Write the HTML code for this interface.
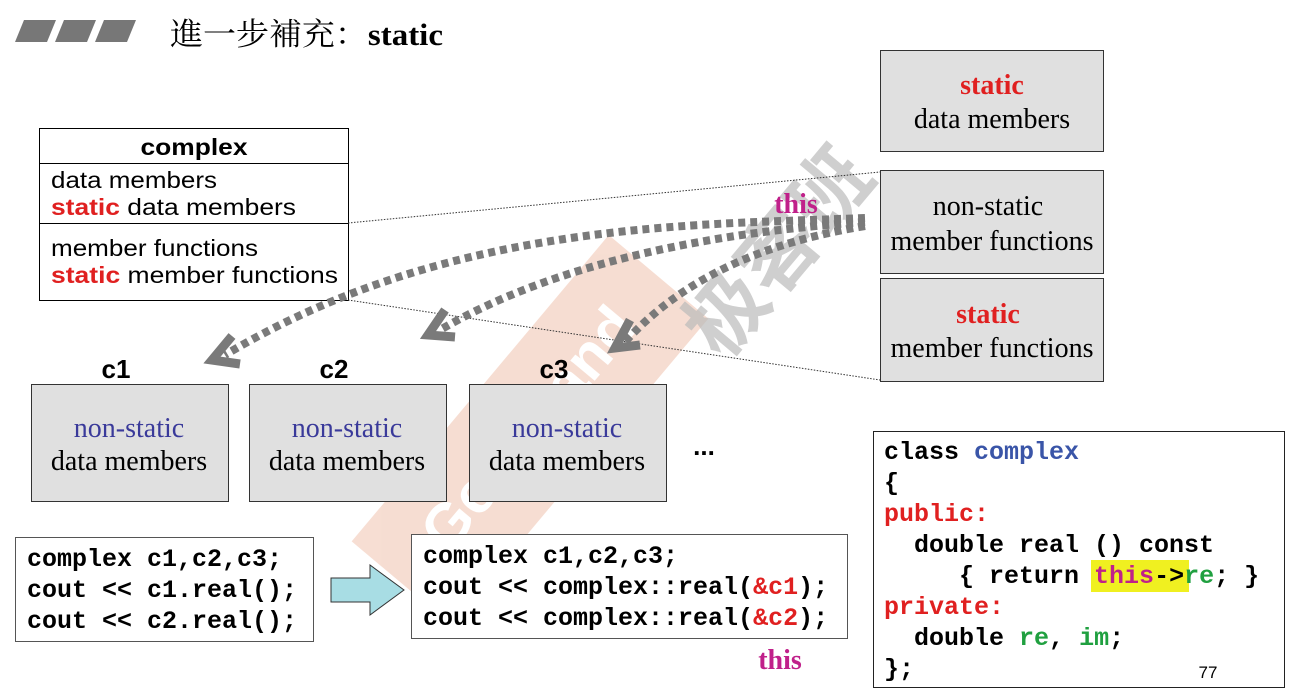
<!DOCTYPE html>
<html><head><meta charset="utf-8"><style>
body{margin:0;background:#fff}
svg{display:block}
.m{font-family:"Liberation Mono",monospace;font-weight:bold;font-size:25px}
.s{font-family:"Liberation Sans",sans-serif;font-size:23px}
.r{font-family:"Liberation Serif",serif;font-size:28px}
</style></head><body>
<svg width="1293" height="700" xmlns="http://www.w3.org/2000/svg">
<g fill="#777"><polygon points="24,20 56,20 47,42 15,42"/><polygon points="64,20 96,20 87,42 55,42"/><polygon points="104,20 136,20 127,42 95,42"/></g>
<text x="170" y="45" font-family="Liberation Serif,Noto Serif CJK SC,serif" font-size="31" fill="#000" textLength="273" lengthAdjust="spacingAndGlyphs">進一步補充：<tspan font-weight="bold">static</tspan></text>

<!-- watermark -->
<g transform="translate(530,430) rotate(-50)" opacity="0.35">
<rect x="-200" y="-65" width="400" height="130" fill="#e8a080"/>
<text x="0" y="18" text-anchor="middle" font-family="Liberation Sans,sans-serif" font-weight="bold" font-size="60" fill="#fff">GeekBand</text>
</g>
<text transform="translate(800,270) rotate(-50)" text-anchor="middle" font-family="Noto Sans CJK SC,sans-serif" font-weight="bold" font-size="80" fill="#bbb" opacity="0.7">极客班</text>

<!-- complex box -->
<rect x="39.5" y="128.5" width="309" height="172" fill="#fff" stroke="#000"/>
<line x1="39" y1="163.5" x2="348" y2="163.5" stroke="#000"/>
<line x1="39" y1="223.5" x2="348" y2="223.5" stroke="#000"/>
<text x="194" y="155" text-anchor="middle" class="s" font-weight="bold" textLength="107" lengthAdjust="spacingAndGlyphs">complex</text>
<text x="51" y="188" class="s" textLength="166" lengthAdjust="spacingAndGlyphs">data members</text>
<text x="51" y="215" class="s" textLength="245" lengthAdjust="spacingAndGlyphs"><tspan fill="#e02020" font-weight="bold">static</tspan> data members</text>
<text x="51" y="256" class="s" textLength="207" lengthAdjust="spacingAndGlyphs">member functions</text>
<text x="51" y="283" class="s" textLength="287" lengthAdjust="spacingAndGlyphs"><tspan fill="#e02020" font-weight="bold">static</tspan> member functions</text>

<line x1="348" y1="223" x2="880" y2="172" stroke="#333" stroke-dasharray="1.5 1.5"/>
<line x1="348" y1="300" x2="880" y2="380" stroke="#333" stroke-dasharray="1.5 1.5"/>

<!-- right boxes -->
<g fill="#e0e0e0" stroke="#333">
<rect x="880.5" y="50.5" width="223" height="101"/>
<rect x="880.5" y="170.5" width="223" height="103"/>
<rect x="880.5" y="278.5" width="223" height="103"/>
</g>
<text x="992" y="94" text-anchor="middle" class="r" fill="#e02020" font-weight="bold">static</text>
<text x="992" y="128" text-anchor="middle" class="r">data members</text>
<text x="988" y="215" text-anchor="middle" class="r">non-static</text>
<text x="992" y="250" text-anchor="middle" class="r">member functions</text>
<text x="988" y="323" text-anchor="middle" class="r" fill="#e02020" font-weight="bold">static</text>
<text x="992" y="357" text-anchor="middle" class="r">member functions</text>

<!-- object boxes -->
<g fill="#e0e0e0" stroke="#333">
<rect x="31.5" y="384.5" width="197" height="117"/>
<rect x="249.5" y="384.5" width="197" height="117"/>
<rect x="469.5" y="384.5" width="197" height="117"/>
</g>
<g font-family="Liberation Sans,sans-serif" font-weight="bold" font-size="26" text-anchor="middle">
<text x="116" y="378">c1</text><text x="334" y="378">c2</text><text x="554" y="378">c3</text></g>
<g class="r" text-anchor="middle">
<text x="129" y="437" fill="#3a3a9a">non-static</text><text x="129" y="470">data members</text>
<text x="347" y="437" fill="#3a3a9a">non-static</text><text x="347" y="470">data members</text>
<text x="567" y="437" fill="#3a3a9a">non-static</text><text x="567" y="470">data members</text>
</g>
<text x="704" y="455" text-anchor="middle" font-family="Liberation Sans,sans-serif" font-weight="bold" font-size="26">...</text>

<!-- this arrows -->
<text x="796" y="213" text-anchor="middle" class="r" font-size="34" font-weight="bold" fill="#c0208a">this</text>
<g fill="none" stroke="#7a7a7a" stroke-width="8" stroke-dasharray="7 5">
<path d="M865,218 C700,225 450,220 225,355"/>
<path d="M865,222 C720,232 560,260 440,330"/>
<path d="M865,226 C780,240 690,270 625,342"/>
</g>
<g fill="none" stroke="#7a7a7a" stroke-width="9" stroke-linecap="butt">
<polyline points="232,336 212,360 240,364"/>
<polyline points="445,310 428,335 455,337"/>
<polyline points="630,320 615,348 640,345"/>
</g>

<!-- code boxes -->
<rect x="15.5" y="537.5" width="298" height="104" fill="#fff" stroke="#555"/>
<text x="27" y="566" class="m">complex c1,c2,c3;</text>
<text x="27" y="597" class="m">cout &lt;&lt; c1.real();</text>
<text x="27" y="628" class="m">cout &lt;&lt; c2.real();</text>

<polygon points="331,578 370,578 370,565 404,590 370,615 370,602 331,602" fill="#a8dde4" stroke="#333"/>

<rect x="411.5" y="534.5" width="436" height="104" fill="#fff" stroke="#555"/>
<text x="423" y="563" class="m">complex c1,c2,c3;</text>
<text x="423" y="594" class="m">cout &lt;&lt; complex::real(<tspan fill="#e02020">&amp;c1</tspan>);</text>
<text x="423" y="625" class="m">cout &lt;&lt; complex::real(<tspan fill="#e02020">&amp;c2</tspan>);</text>
<text x="780" y="669" text-anchor="middle" class="r" font-size="34" font-weight="bold" fill="#c0208a">this</text>

<rect x="873.5" y="431.5" width="411" height="256" fill="#fff" stroke="#222"/>
<rect x="1091" y="560" width="98" height="32" fill="#f0f020"/>
<text x="884" y="459" class="m">class <tspan fill="#3a55a8">complex</tspan></text>
<text x="884" y="490" class="m">{</text>
<text x="884" y="521" class="m" fill="#e02020">public:</text>
<text x="884" y="552" class="m" xml:space="preserve">  double real () const</text>
<text x="884" y="583" class="m" xml:space="preserve">     { return <tspan fill="#c0208a">this</tspan>-&gt;<tspan fill="#20a040">re</tspan>; }</text>
<text x="884" y="614" class="m" fill="#e02020">private:</text>
<text x="884" y="645" class="m" xml:space="preserve">  double <tspan fill="#20a040">re</tspan>, <tspan fill="#20a040">im</tspan>;</text>
<text x="884" y="676" class="m">};</text>
<text x="1208" y="678" text-anchor="middle" font-family="Liberation Sans,sans-serif" font-size="17">77</text>
</svg>
</body></html>
